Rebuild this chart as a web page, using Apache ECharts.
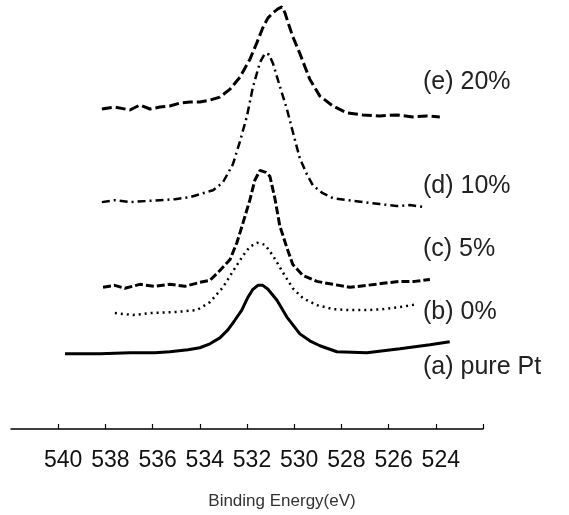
<!DOCTYPE html>
<html>
<head>
<meta charset="utf-8">
<script src="https://cdn.jsdelivr.net/npm/echarts@6/dist/echarts.min.js"></script>
<style>
  html, body { margin: 0; padding: 0; background: #fff; }
  #chart { width: 569px; height: 515px; }
</style>
</head>
<body>
<div id="chart"></div>
<script>
// binding energy (eV) / intensity (arb., offset per sample)
const pureE = [539.71, 538.23, 536.96, 535.90, 535.27, 534.50, 534.00, 533.57, 533.15, 532.81, 532.51, 532.22, 531.96, 531.75, 531.54, 531.33, 531.11, 530.73, 530.31, 529.76, 529.34, 528.91, 528.19, 526.92, 525.52, 524.25, 523.41];
const pureI = [76, 76, 77, 77, 78, 80, 82, 86, 92, 100, 110, 120, 133, 141, 145, 145, 141, 130, 113, 96, 89, 84, 78, 77, 81, 85, 88];

const b0E = [537.60, 536.83, 536.11, 535.05, 534.12, 533.57, 533.02, 532.60, 532.17, 531.88, 531.58, 531.24, 530.90, 530.48, 530.06, 529.63, 529.04, 528.36, 527.64, 526.92, 526.24, 525.52, 524.76];
const b0I = [117, 115, 117, 118, 120, 128, 143, 159, 175, 184, 188, 186, 175, 158, 142, 132, 125, 121, 120, 120, 121, 123, 126];

const c5E = [538.10, 537.60, 537.17, 536.54, 535.90, 535.27, 534.63, 534.00, 533.57, 533.15, 532.72, 532.43, 532.17, 531.88, 531.67, 531.45, 531.20, 531.03, 530.82, 530.61, 530.31, 530.06, 529.63, 529.04, 528.36, 527.64, 526.92, 526.24, 525.52, 524.89, 524.25];
const c5I = [143, 145, 142, 146, 144, 146, 144, 148, 150, 160, 171, 188, 208, 231, 251, 261, 259, 255, 233, 205, 183, 166, 155, 149, 146, 143, 145, 147, 149, 149, 151];

const d10E = [538.15, 537.60, 536.96, 536.32, 535.69, 535.05, 534.42, 534.00, 533.44, 533.02, 532.60, 532.30, 532.00, 531.75, 531.45, 531.24, 531.07, 530.90, 530.61, 530.31, 530.06, 529.76, 529.46, 529.21, 528.79, 528.36, 527.73, 527.09, 526.37, 525.65, 525.10, 524.47];
const d10I = [229, 231, 229, 230, 231, 232, 234, 237, 241, 249, 267, 290, 316, 345, 370, 379, 378, 369, 346, 323, 300, 273, 257, 246, 238, 233, 231, 229, 227, 225, 226, 224];

const e20E = [538.15, 537.60, 536.96, 536.54, 536.11, 535.69, 535.27, 534.84, 534.42, 534.00, 533.57, 533.15, 532.72, 532.30, 531.88, 531.58, 531.33, 531.11, 530.90, 530.69, 530.52, 530.39, 530.27, 530.06, 529.76, 529.34, 528.91, 528.36, 527.77, 527.09, 526.37, 525.65, 524.97, 524.38, 523.83];
const e20I = [323, 325, 322, 327, 323, 325, 326, 329, 330, 330, 332, 335, 343, 355, 373, 390, 405, 415, 420, 424, 426, 420, 411, 396, 379, 353, 336, 326, 319, 317, 316, 317, 315, 316, 315];

const seriesNames = ['(e) 20%', '(d) 10%', '(c) 5%', '(b) 0%', '(a) pure Pt'];
const labelY = [83, 187, 250, 313, 368];

const tickValues = [522, 524, 526, 528, 530, 532, 534, 536, 538, 540];
const labelValues = [524, 526, 528, 530, 532, 534, 536, 538, 540];

const zip = (xs, ys) => xs.map((x, i) => [x, ys[i]]);

const chart = echarts.init(document.getElementById('chart'));

const lineSeries = (data, type, width) => ({
  type: 'line',
  data,
  symbol: 'none',
  smooth: false,
  silent: true,
  lineStyle: { color: '#000', width, type },
});

chart.setOption({
  animation: false,
  backgroundColor: '#fff',
  grid: { left: 11, right: 86, top: 0, bottom: 82 },
  xAxis: {
    type: 'value',
    inverse: true,
    min: 522,
    max: 542,
    interval: 2,
    name: 'Binding Energy(eV)',
    nameLocation: 'middle',
    nameGap: 64,
    nameTextStyle: {
      color: '#333', fontSize: 17, fontFamily: 'Liberation Sans', padding: [0, 0, 0, 70],
    },
    axisLine: { lineStyle: { color: '#000', width: 1.5 } },
    axisTick: {
      inside: true, length: 5, customValues: tickValues, lineStyle: { color: '#000', width: 1.2 },
    },
    axisLabel: {
      color: '#111',
      fontSize: 23,
      fontFamily: 'Liberation Sans Narrow, Liberation Sans',
      margin: 20,
      padding: [0, 0, 0, 10],
      customValues: labelValues,
    },
    splitLine: { show: false },
  },
  yAxis: {
    type: 'value',
    min: 0,
    max: 433,
    show: false,
  },
  graphic: seriesNames.map((t, i) => ({
    type: 'text',
    left: 423,
    top: labelY[i] - 13,
    style: {
      text: t, fill: '#222', fontSize: 25, fontFamily: 'Liberation Sans',
    },
  })),
  series: [
    lineSeries(zip(e20E, e20I), [10, 4], 3),
    lineSeries(zip(d10E, d10I), [8, 4, 2, 4], 2.5),
    lineSeries(zip(c5E, c5I), [8, 3], 3),
    lineSeries(zip(b0E, b0I), [2, 4], 2.5),
    lineSeries(zip(pureE, pureI), 'solid', 3),
  ],
});
</script>
</body>
</html>
